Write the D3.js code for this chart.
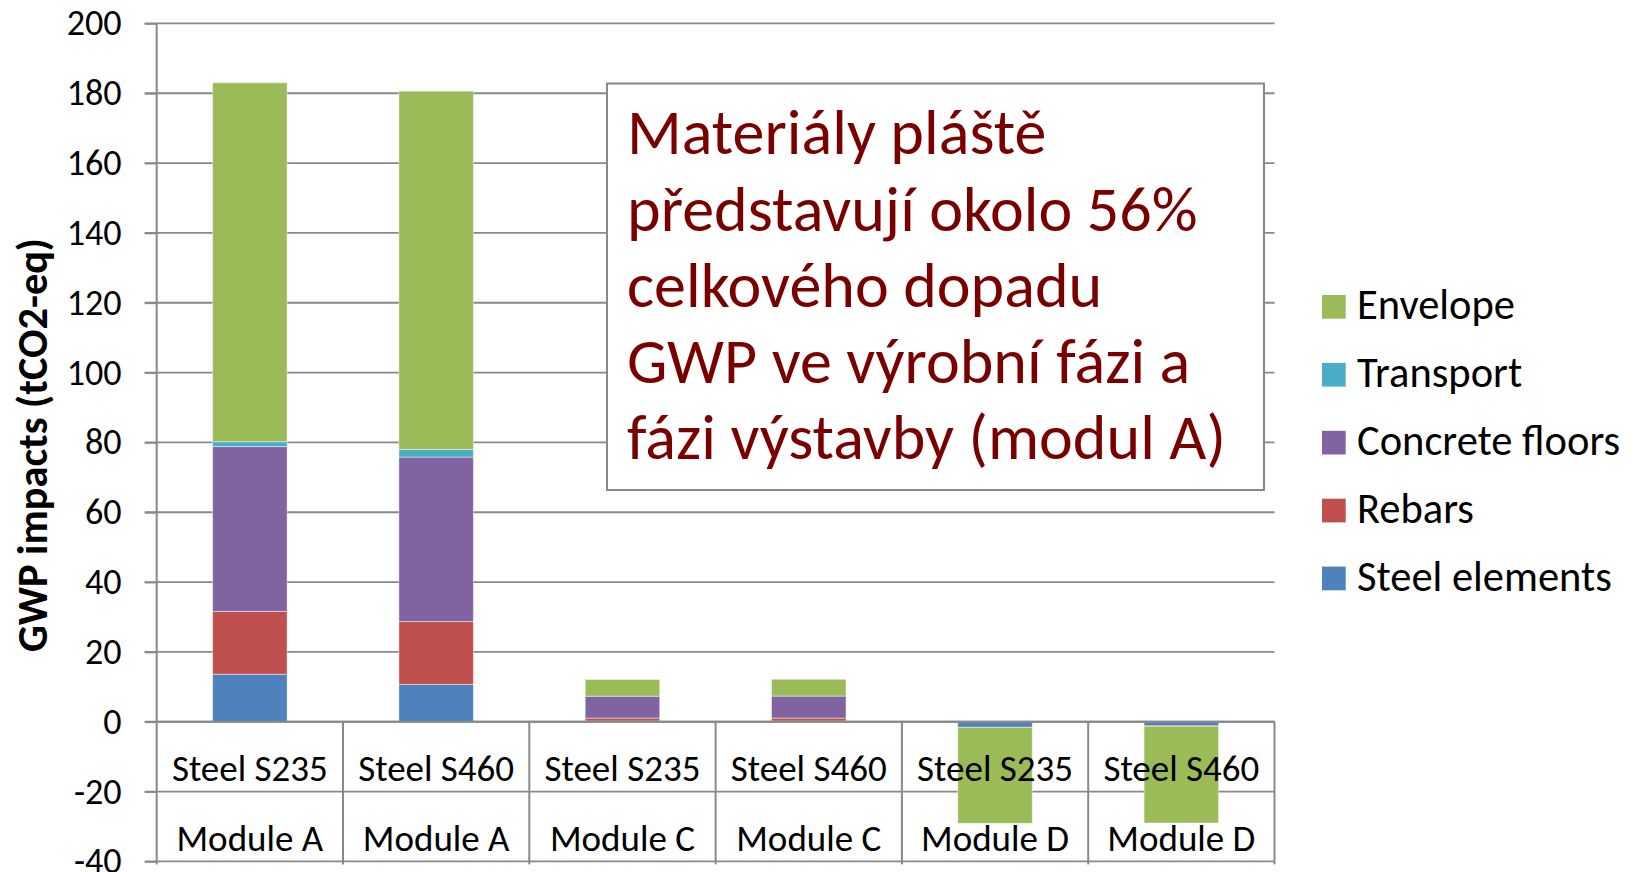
<!DOCTYPE html>
<html>
<head>
<meta charset="utf-8">
<script src="https://cdn.jsdelivr.net/npm/d3@7"></script>
<style>
  html, body { margin: 0; padding: 0; background: #fff; }
  svg { display: block; }
  text { font-family: Carlito, Calibri, Lato, "Open Sans", sans-serif; }
</style>
</head>
<body>
<svg id="chart" width="1635" height="872"></svg>
<script>
// ---- data -------------------------------------------------------------
const categories = ["Steel S235", "Steel S460", "Steel S235", "Steel S460", "Steel S235", "Steel S460"];
const modules = ["Module A", "Module A", "Module C", "Module C", "Module D", "Module D"];
const seriesNames = ["Steel elements", "Rebars", "Concrete floors", "Transport", "Envelope"];
const seriesColors = ["#4F81BD", "#C0504D", "#8064A2", "#4BACC6", "#9BBB59"];

const steelElements  = [13.6, 10.7, 0.2, 0.2, -1.6, -1.2];
const rebars         = [18.0, 18.0, 0.85, 0.85, 0, -0.1];
const concreteFloors = [47.2, 47.1, 6.25, 6.3, 0, 0];
const transport      = [1.4, 2.2, 0, 0, 0, 0];
const envelope       = [102.8, 102.6, 4.8, 4.8, -27.5, -27.7];

const yTicks = [-40, -20, 0, 20, 40, 60, 80, 100, 120, 140, 160, 180, 200];
const yTitle = "GWP impacts (tCO2-eq)";
const calloutLines = [
  "Materiály pláště",
  "představují okolo 56%",
  "celkového dopadu",
  "GWP ve výrobní fázi a",
  "fázi výstavby (modul A)"
];

// ---- setup ------------------------------------------------------------
const svg = d3.select("#chart");
const FONT = 'Carlito, Calibri, Lato, "Open Sans", sans-serif';
const GRID = "#898989";

const plot = { left: 156.7, right: 1274.5, top: 23.4, bottom: 861.4 };

const x = d3.scaleBand()
  .domain(d3.range(categories.length))
  .range([plot.left, plot.right])
  .paddingInner(0).paddingOuter(0);

const y = d3.scaleLinear()
  .domain([d3.min(yTicks), d3.max(yTicks)])
  .range([plot.bottom, plot.top]);

const color = d3.scaleOrdinal(seriesNames, seriesColors);

const seriesValues = [steelElements, rebars, concreteFloors, transport, envelope];
const rows = categories.map((c, i) => {
  const r = { index: i };
  seriesNames.forEach((s, k) => { r[s] = seriesValues[k][i]; });
  return r;
});
const stacked = d3.stack().keys(seriesNames).offset(d3.stackOffsetDiverging)(rows);

// font size that makes `sample` exactly `target` px wide
function fitSize(sample, target, weight) {
  const t = svg.append("text").attr("font-size", 100)
    .attr("font-weight", weight || "normal").style("font-family", FONT).text(sample);
  const w = t.node().getComputedTextLength();
  t.remove();
  return 100 * target / w;
}

// ---- gridlines ----------------------------------------------------------
svg.append("g").selectAll("line").data(yTicks).join("line")
  .attr("x1", plot.left - 12).attr("x2", plot.right)
  .attr("y1", d => y(d)).attr("y2", d => y(d))
  .attr("stroke", GRID).attr("stroke-width", 1.8);

// ---- callout box ----------------------------------------------------------
const box = { x: 607, y: 83.5, w: 657, h: 406.5 };
svg.append("rect")
  .attr("x", box.x).attr("y", box.y).attr("width", box.w).attr("height", box.h)
  .attr("fill", "#fff").attr("stroke", GRID).attr("stroke-width", 2);

const calloutSize = fitSize(calloutLines[4], 599);
svg.append("g").selectAll("text").data(calloutLines).join("text")
  .attr("x", 627)
  .attr("y", (d, i) => 154.3 + i * 76.2)
  .attr("font-size", calloutSize)
  .attr("fill", "#7A0000")
  .text(d => d);

// ---- bars -------------------------------------------------------------
const barW = x.bandwidth() * 0.4;
svg.append("g").selectAll("g").data(stacked).join("g")
  .attr("fill", d => color(d.key))
  .selectAll("rect").data(d => d).join("rect")
  .attr("x", d => x(d.data.index) + (x.bandwidth() - barW) / 2)
  .attr("width", barW)
  .attr("y", d => y(Math.max(d[0], d[1])))
  .attr("height", d => Math.abs(y(d[0]) - y(d[1])))
  .attr("stroke", "rgba(255,255,255,0.45)")
  .attr("stroke-width", 1);

// ---- axes -------------------------------------------------------------
// zero line drawn over the bars
svg.append("line")
  .attr("x1", plot.left).attr("x2", plot.right)
  .attr("y1", y(0)).attr("y2", y(0))
  .attr("stroke", GRID).attr("stroke-width", 2);

// category table separators
svg.append("g").selectAll("line").data(d3.range(1, categories.length + 1)).join("line")
  .attr("x1", i => plot.left + i * x.step()).attr("x2", i => plot.left + i * x.step())
  .attr("y1", y(0)).attr("y2", plot.bottom + 3)
  .attr("stroke", GRID).attr("stroke-width", 2);

const tickSize = fitSize("200", 55);
const yAxis = d3.axisLeft(y)
  .tickValues(yTicks)
  .tickSize(12)
  .tickPadding(23)
  .tickFormat(d => String(d));
const yg = svg.append("g").attr("transform", `translate(${plot.left},0)`).call(yAxis);
yg.select(".domain").remove();
yg.selectAll(".tick line").attr("stroke", GRID).attr("stroke-width", 1.8);
yg.selectAll(".tick text")
  .attr("font-size", tickSize).attr("fill", "#000").style("font-family", FONT);
svg.append("line")
  .attr("x1", plot.left).attr("x2", plot.left)
  .attr("y1", plot.top).attr("y2", plot.bottom + 3)
  .attr("stroke", GRID).attr("stroke-width", 2);

// category labels (two levels)
const catSize = fitSize("Steel S235", 156);
const cx = i => x(i) + x.bandwidth() / 2;
svg.append("g").selectAll("text").data(categories).join("text")
  .attr("x", (d, i) => cx(i)).attr("y", 781)
  .attr("text-anchor", "middle").attr("font-size", catSize).attr("fill", "#000")
  .text(d => d);
svg.append("g").selectAll("text").data(modules).join("text")
  .attr("x", (d, i) => cx(i)).attr("y", 851)
  .attr("text-anchor", "middle").attr("font-size", catSize).attr("fill", "#000")
  .text(d => d);

// y-axis title
const titleSize = fitSize(yTitle, 414, "bold");
svg.append("text")
  .attr("transform", "translate(46.7,445) rotate(-90)")
  .attr("text-anchor", "middle")
  .attr("font-weight", "bold")
  .attr("font-size", titleSize)
  .attr("fill", "#000")
  .text(yTitle);

// ---- legend -----------------------------------------------------------
const legendSize = fitSize("Envelope", 158);
const legend = svg.append("g").selectAll("g").data(seriesNames.slice().reverse()).join("g")
  .attr("transform", (d, i) => `translate(1322,${295 + i * 67.9})`);
legend.append("rect")
  .attr("width", 23.7).attr("height", 23.7)
  .attr("fill", d => color(d));
legend.append("text")
  .attr("x", 35).attr("y", 24)
  .attr("font-size", legendSize).attr("fill", "#000")
  .text(d => d);
</script>
</body>
</html>
